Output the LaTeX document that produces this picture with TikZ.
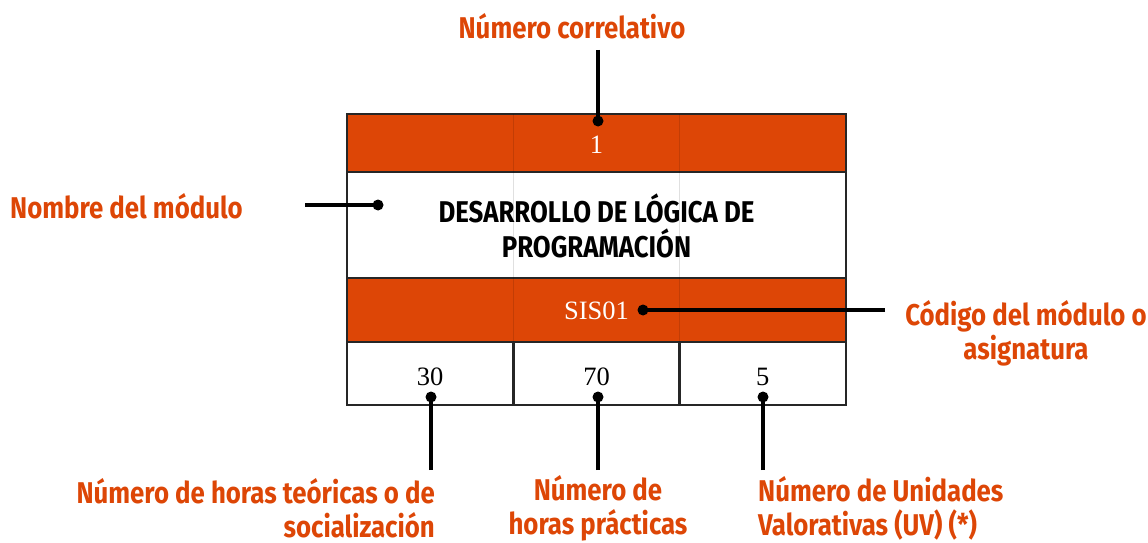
\documentclass[tikz,border=0pt]{standalone}
\usepackage{fontspec}
\setmainfont{Liberation Serif}
\newfontfamily\lbl[FakeStretch=0.86]{Fira Sans}
\definecolor{org}{RGB}{221,70,6}
\begin{document}
\begin{tikzpicture}[x=1pt,y=-1pt,
  cell/.style={draw=black!85, line width=2.5pt, minimum width=499pt, inner sep=0pt, outer sep=0pt},
  lab/.style={text=org, font=\lbl\bfseries\fontsize{30}{34}\selectfont, inner sep=0pt},
  ttl/.style={font=\lbl\bfseries\fontsize{30}{35}\selectfont, align=center, inner sep=0pt},
  conn/.style={line width=4pt, black},
  num/.style={font=\fontsize{26.5}{30}\selectfont, inner sep=0pt},
  grid/.style={line width=0.6pt, black, opacity=0.12}]
\useasboundingbox (0,0) rectangle (1148,543);
% rows
\node[cell, fill=org, minimum height=58pt] (r1) at (596.5,143) {};
\node[cell, fill=white, minimum height=106pt] (r2) at (596.5,225) {};
\node[cell, fill=org, minimum height=64pt] (r3) at (596.5,310) {};
\node[cell, minimum width=166.33pt, minimum height=63pt] (c1) at (430.17,373.5) {};
\node[cell, minimum width=166.33pt, minimum height=63pt] (c2) at (596.5,373.5) {};
\node[cell, minimum width=166.33pt, minimum height=63pt] (c3) at (762.83,373.5) {};
% faint grid
\draw[grid] (513.3,114) -- (513.3,342);
\draw[grid] (679.7,114) -- (679.7,342);
% texts
\node[num, text=white] (n1) at (596.5,145) {1};
\node[ttl] (tt) at (596.5,225.5) {DESARROLLO DE LÓGICA DE\\PROGRAMACIÓN};
\node[num, text=white] (code) at (596.5,311) {SIS01};
\node[num] (v1) at (430.17,377) {30};
\node[num] (v2) at (596.5,377) {70};
\node[num] (v3) at (762.83,377) {5};
% labels
\node[lab] (lt) at (572,26) {Número correlativo};
\node[lab, anchor=west] (ll) at (10,206) {Nombre del módulo};
\node[lab, align=center] (lr) at (1026,333) {Código del módulo o\\asignatura};
\node[lab, align=right, anchor=east] (lb1) at (435,508) {Número de horas teóricas o de\\socialización};
\node[lab, align=center] (lb2) at (598,508) {Número de\\horas prácticas};
\node[lab, align=left, anchor=west] (lb3) at (758,508) {Número de Unidades\\Valorativas (UV) (*)};
% connectors
\coordinate (t0) at (598,50); \coordinate (t1) at (598,121);
\coordinate (l0) at (305,205); \coordinate (l1) at (378,205);
\coordinate (s0) at (885,310); \coordinate (s1) at (643,310);
\coordinate (b1e) at (431,470); \coordinate (b1d) at (431,397);
\coordinate (b2e) at (598,470); \coordinate (b2d) at (598,397);
\coordinate (b3e) at (763,470); \coordinate (b3d) at (763,397);
\foreach \a/\b in {t0/t1,l0/l1,s0/s1,b1e/b1d,b2e/b2d,b3e/b3d}{
  \draw[conn] (\a) -- (\b);
  \fill (\b) circle (5.5);
}
\end{tikzpicture}
\end{document}
